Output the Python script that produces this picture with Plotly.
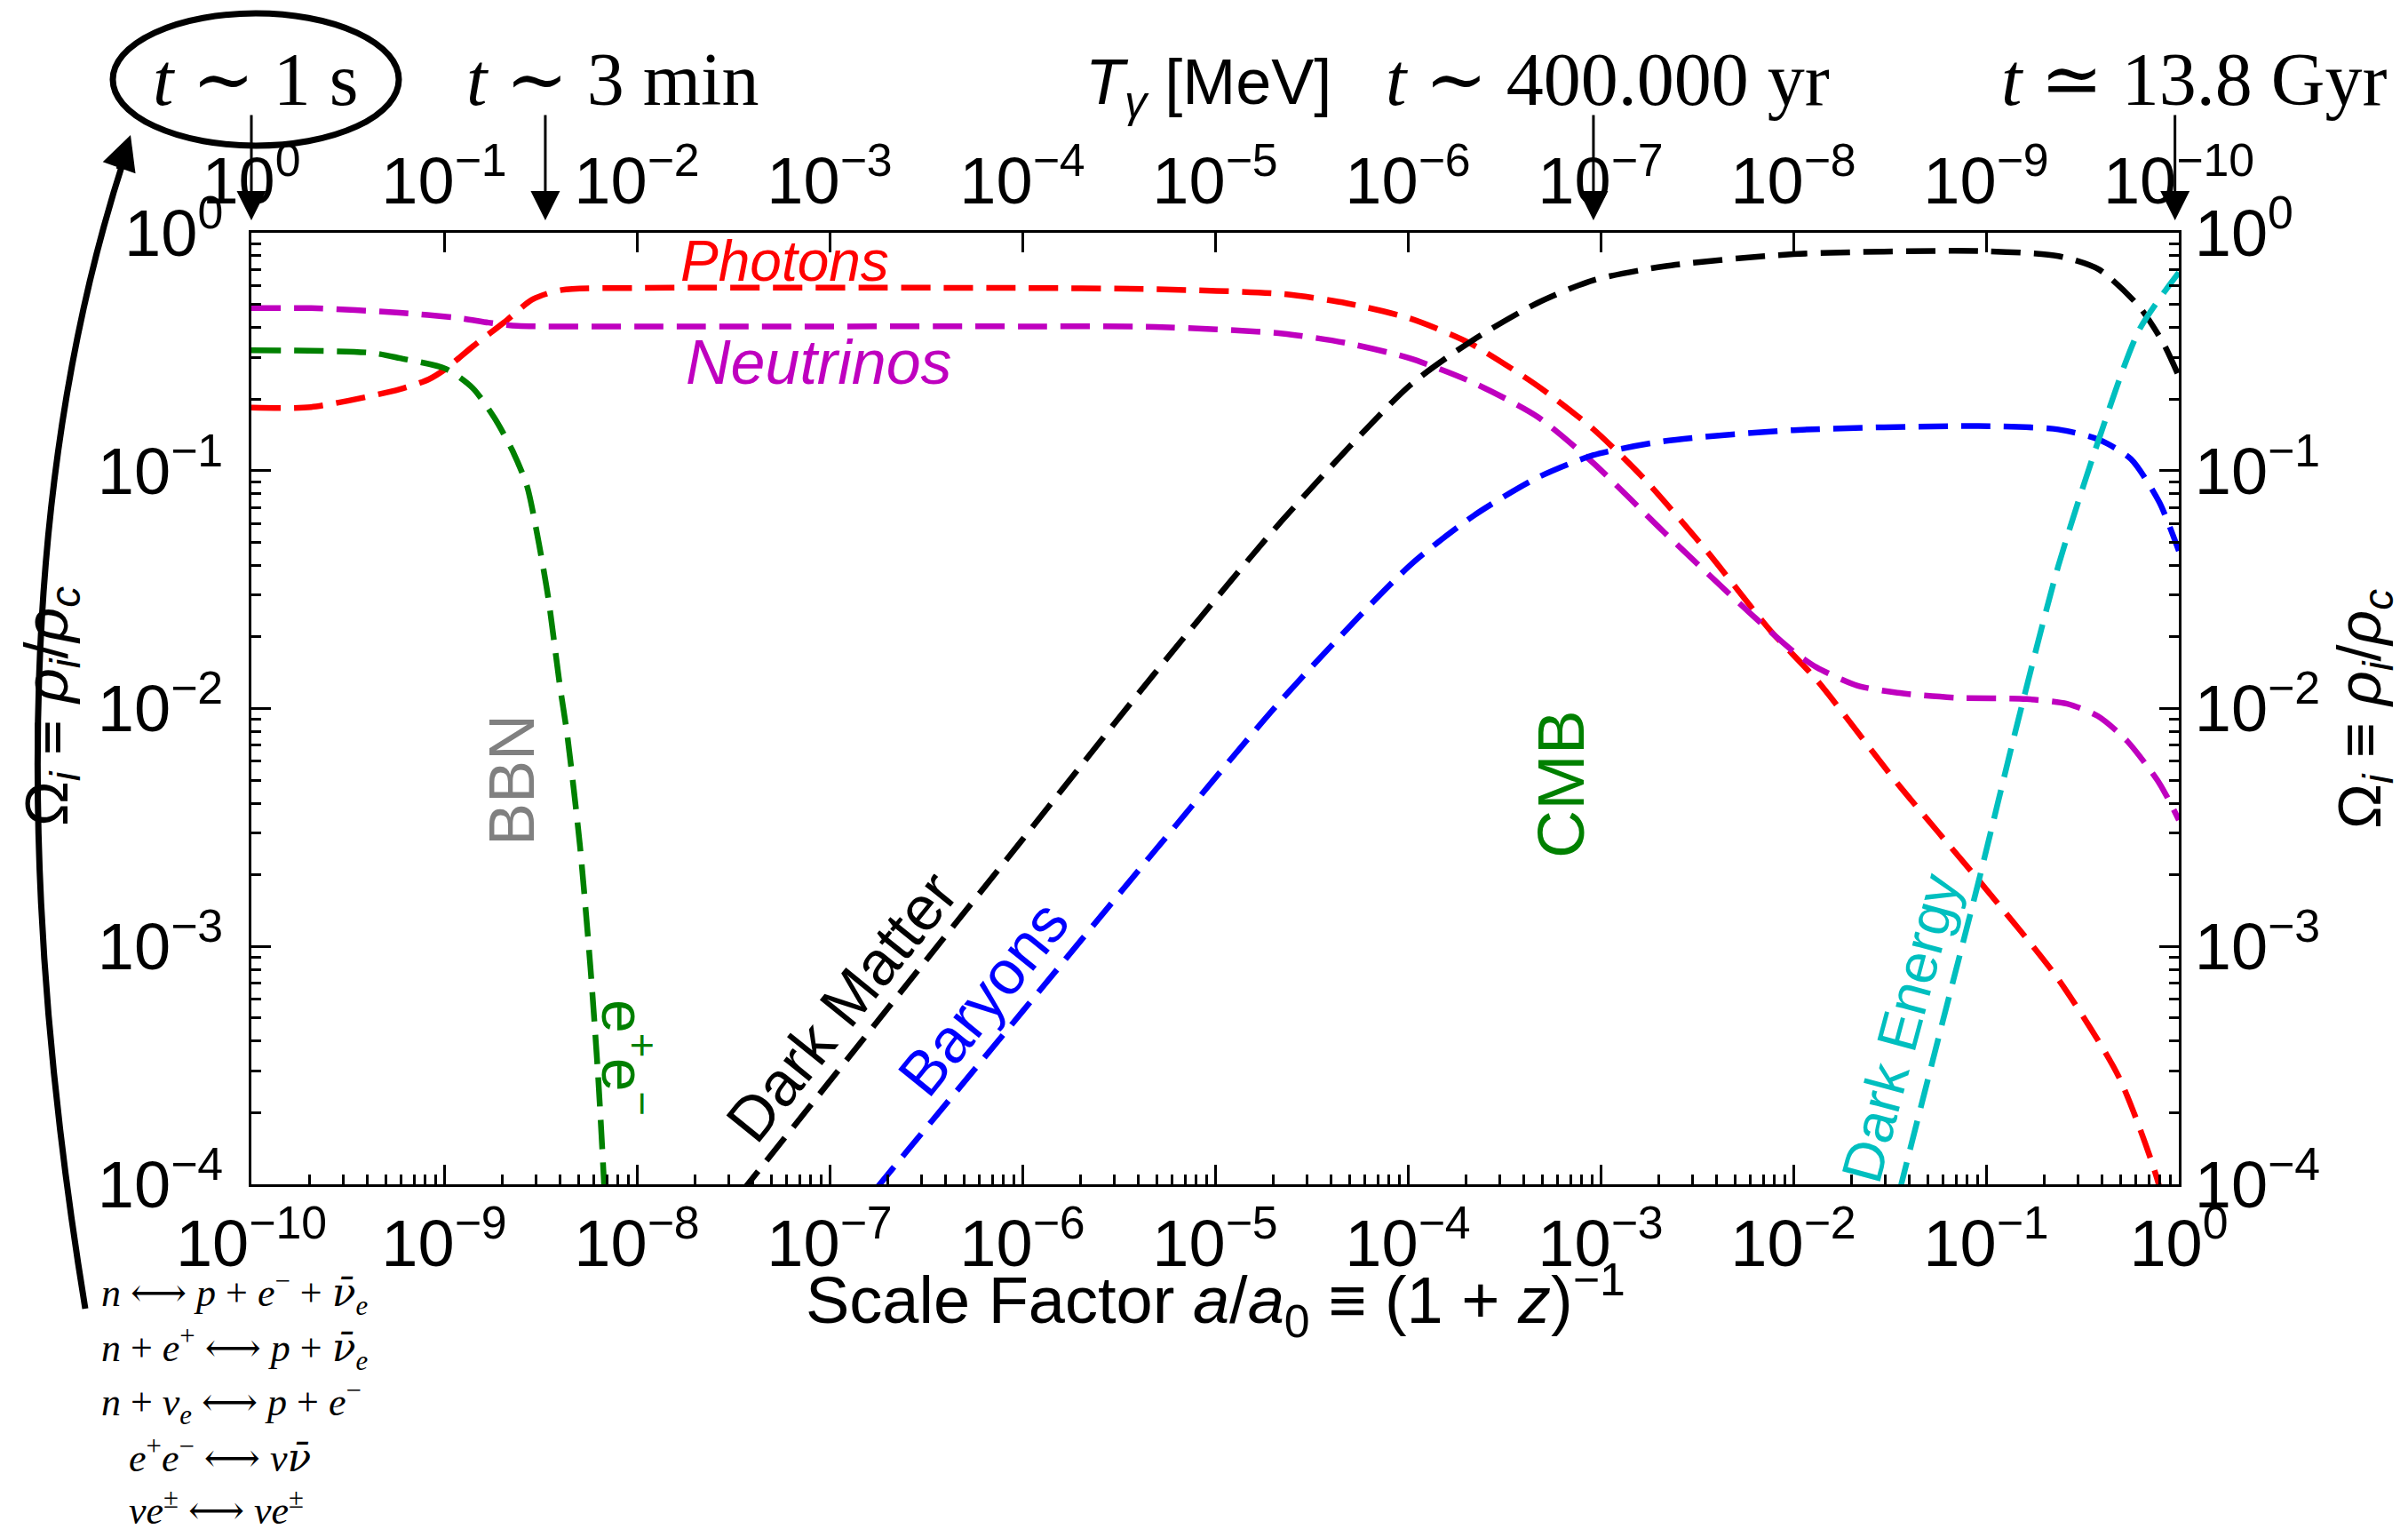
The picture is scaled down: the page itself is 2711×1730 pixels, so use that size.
import math
import plotly.graph_objects as go

# ---------------- data ----------------
a_photons = [1e-10, 2.04e-10, 5.89e-10, 8.32e-10, 1.02e-9, 1.41e-9, 2.04e-9, 2.88e-9, 4.07e-9, 1e-8, 1e-6,
             4.9e-6, 2.24e-5, 4.79e-5, 1.02e-4, 2.09e-4, 4.68e-4, 9.12e-4, 1.66e-3, 3.55e-3, 7.59e-3, 1.32e-2,
             3.47e-2, 9.55e-2, 0.237, 0.489, 0.791, 0.83]
omega_photons = [0.184, 0.185, 0.220, 0.242, 0.268, 0.333, 0.419, 0.525, 0.575, 0.586, 0.586,
                 0.579, 0.553, 0.506, 0.437, 0.344, 0.228, 0.150, 0.0935, 0.046, 0.0213, 0.0132,
                 4.84e-3, 1.82e-3, 7.28e-4, 2.82e-4, 9.8e-5, 7e-5]

a_neutrinos = [1e-10, 2.04e-10, 5.89e-10, 1.2e-9, 1.7e-9, 2.4e-9, 1e-8, 1e-6, 4.9e-6, 2.24e-5, 4.79e-5,
               1.02e-4, 2.19e-4, 4.68e-4, 9.12e-4, 2.14e-3, 5.89e-3, 1e-2, 1.32e-2, 2.14e-2, 3.47e-2,
               7.08e-2, 0.162, 0.263, 0.380, 0.537, 0.794, 1.0]
omega_neutrinos = [0.482, 0.482, 0.461, 0.438, 0.419, 0.406, 0.404, 0.404, 0.402, 0.377, 0.344,
                   0.297, 0.234, 0.169, 0.108, 0.055, 0.0254, 0.0174, 0.0149, 0.0125, 0.01164,
                   0.0111, 0.01096, 0.01047, 9.29e-3, 7.33e-3, 4.84e-3, 3.40e-3]

a_pairs = [1e-10, 4.17e-10, 5.89e-10, 1.02e-9, 1.41e-9, 1.82e-9, 2.26e-9, 2.69e-9, 3.11e-9, 3.47e-9,
           3.98e-9, 4.35e-9, 5.06e-9, 5.74e-9, 6.30e-9, 6.76e-9, 6.92e-9]
omega_pairs = [0.321, 0.313, 0.297, 0.268, 0.222, 0.167, 0.1216, 0.0863, 0.0489, 0.0292,
               0.0126, 7.78e-3, 2.68e-3, 8.2e-4, 2.82e-4, 1e-4, 6.3e-5]

a_dark_matter = [2.5e-8, 3.76e-8, 3.16e-7, 1e-6, 4.86e-6, 2.23e-5, 1.02e-4, 2.19e-4, 4.68e-4, 9.12e-4,
                 2.14e-3, 1e-2, 9.12e-2, 0.237, 0.384, 0.621, 0.830, 1.0]
omega_dark_matter = [6.6e-5, 1e-4, 8.73e-4, 2.81e-3, 0.01406, 0.0618, 0.2275, 0.355, 0.506, 0.631,
                     0.723, 0.813, 0.838, 0.798, 0.702, 0.491, 0.344, 0.249]

a_baryons = [1.26e-7, 1.82e-7, 1e-6, 4.86e-6, 2.23e-5, 1.02e-4, 2.19e-4, 4.68e-4, 9.12e-4, 2.14e-3,
             1e-2, 9.12e-2, 0.237, 0.384, 0.564, 0.791, 1.0]
omega_baryons = [6.9e-5, 1e-4, 5.32e-4, 2.52e-3, 0.01096, 0.0398, 0.0646, 0.0933, 0.116, 0.133,
                 0.148, 0.154, 0.149, 0.135, 0.112, 0.0738, 0.046]

a_dark_energy = [3.16e-2, 3.63e-2, 5.6e-2, 9.06e-2, 0.1466, 0.237, 0.384, 0.621, 1.0]
omega_dark_energy = [6.3e-5, 1e-4, 3.98e-4, 1.82e-3, 8.91e-3, 0.0398, 0.135, 0.389, 0.681]

x_ticks = [1e-10, 1e-9, 1e-8, 1e-7, 1e-6, 1e-5, 1e-4, 1e-3, 1e-2, 1e-1, 1]
x_tick_labels = ["10<sup>−10</sup>", "10<sup>−9</sup>", "10<sup>−8</sup>", "10<sup>−7</sup>", "10<sup>−6</sup>",
                 "10<sup>−5</sup>", "10<sup>−4</sup>", "10<sup>−3</sup>", "10<sup>−2</sup>", "10<sup>−1</sup>",
                 "10<sup>0</sup>"]
t_ticks = [1, 1e-1, 1e-2, 1e-3, 1e-4, 1e-5, 1e-6, 1e-7, 1e-8, 1e-9, 1e-10]
t_tick_labels = ["10<sup>0</sup>", "10<sup>−1</sup>", "10<sup>−2</sup>", "10<sup>−3</sup>", "10<sup>−4</sup>",
                 "10<sup>−5</sup>", "10<sup>−6</sup>", "10<sup>−7</sup>", "10<sup>−8</sup>", "10<sup>−9</sup>",
                 "10<sup>−10</sup>"]
y_ticks = [1e-4, 1e-3, 1e-2, 1e-1, 1]
y_tick_labels = ["10<sup>−4</sup>", "10<sup>−3</sup>", "10<sup>−2</sup>", "10<sup>−1</sup>", "10<sup>0</sup>"]

bbn_band = [2.99e-9, 3.85e-9]
cmb_band = [8.53e-4, 9.91e-4]
marker_times = [1e-10, 3.35e-9, 9.18e-4, 0.955]
marker_labels = ["<i>t</i> ∼ 1 s", "<i>t</i> ∼ 3 min", "<i>t</i> ∼ 400.000 yr", "<i>t</i> ≃ 13.8 Gyr"]

# ---------------- layout geometry ----------------
W, H = 2711, 1730
ML, MR, MT, MB = 283, 258, 262, 397
PW, PH = W - ML - MR, H - MT - MB


def px(x):
    return (x - ML) / PW


def py(y):
    return (H - MB - y) / PH


SANS = "Liberation Sans, Arial, sans-serif"
SERIF = "Liberation Serif, DejaVu Serif, serif"
DASH = "33px,15px"
LW = 6.5

fig = go.Figure()
series = [
    (a_photons, omega_photons, "#ff0000"),
    (a_neutrinos, omega_neutrinos, "#bf00bf"),
    (a_pairs, omega_pairs, "#008000"),
    (a_dark_matter, omega_dark_matter, "#000000"),
    (a_baryons, omega_baryons, "#0000ff"),
    (a_dark_energy, omega_dark_energy, "#00bfbf"),
]
for xs, ys, col in series:
    fig.add_trace(go.Scatter(x=xs, y=ys, mode="lines",
                             line=dict(color=col, width=LW, dash=DASH, shape="spline", smoothing=0.7),
                             hoverinfo="skip", showlegend=False))

# invisible traces to activate the secondary axes
fig.add_trace(go.Scatter(x=[1, 1e-10], y=[1e-4, 1e-4], xaxis="x2", yaxis="y", mode="markers",
                         marker=dict(opacity=0), hoverinfo="skip", showlegend=False))
fig.add_trace(go.Scatter(x=[1e-10, 1], y=[1e-4, 1], xaxis="x", yaxis="y2", mode="markers",
                         marker=dict(opacity=0), hoverinfo="skip", showlegend=False))

minor_x = [m * 10.0 ** k for k in range(-10, 0) for m in range(2, 10)]
minor_y = [m * 10.0 ** k for k in range(-4, 0) for m in range(2, 10)]
tickfont = dict(family=SANS, size=74, color="black")

axis_common = dict(type="log", showgrid=False, zeroline=False, showline=True, linecolor="black",
                   linewidth=3, ticks="inside", ticklen=22, tickwidth=3, tickcolor="black",
                   tickfont=tickfont)

fig.update_layout(
    width=W, height=H, autosize=False,
    margin=dict(l=ML, r=MR, t=MT, b=MB, pad=0),
    paper_bgcolor="white", plot_bgcolor="white",
    showlegend=False, hovermode=False,
    xaxis=dict(axis_common, range=[-10, 0], tickvals=x_ticks, ticktext=x_tick_labels,
               minor=dict(ticks="inside", ticklen=11, tickwidth=2.5, tickcolor="black", tickvals=minor_x),
               ticklabelstandoff=0),
    xaxis2=dict(axis_common, range=[0, -10], overlaying="x", side="top", anchor="y",
                tickvals=t_ticks, ticktext=t_tick_labels, ticklabelstandoff=0),
    yaxis=dict(axis_common, range=[-4, 0], tickvals=y_ticks, ticktext=y_tick_labels,
               minor=dict(ticks="inside", ticklen=11, tickwidth=2.5, tickcolor="black", tickvals=minor_y),
               ticklabelstandoff=14),
    yaxis2=dict(axis_common, range=[-4, 0], overlaying="y", side="right", anchor="x",
                tickvals=y_ticks, ticktext=y_tick_labels,
                minor=dict(ticks="inside", ticklen=11, tickwidth=2.5, tickcolor="black", tickvals=minor_y),
                ticklabelstandoff=0),
)

shapes = [
    dict(type="rect", xref="x", yref="paper", x0=math.log10(bbn_band[0]), x1=math.log10(bbn_band[1]),
         y0=0, y1=1, fillcolor="#cccccc", line=dict(color="#b4b4b4", width=3), layer="below"),
    dict(type="rect", xref="x", yref="paper", x0=math.log10(cmb_band[0]), x1=math.log10(cmb_band[1]),
         y0=0, y1=1, fillcolor="#6cb86c", line=dict(color="#a8d8a8", width=2), layer="below"),
    dict(type="circle", xref="paper", yref="paper", x0=px(127), x1=px(449), y0=py(164), y1=py(15),
         line=dict(color="black", width=7)),
    dict(type="path", xref="paper", yref="paper",
         path=f"M {px(96)},{py(1473)} Q {px(-30)},{py(700)} {px(140)},{py(178)}",
         line=dict(color="black", width=7)),
]
fig.update_layout(shapes=shapes)

ann = []


def label(x, y, text, size, color="black", family=SANS, angle=0, xref="paper", xanchor="center"):
    ann.append(dict(x=x, y=y, xref=xref, yref="paper", text=text, showarrow=False, textangle=angle,
                    xanchor=xanchor, yanchor="middle", font=dict(family=family, size=size, color=color)))


# curve labels
label(px(883), py(294), "<i>Photons</i>", 64, "#ff0000")
label(px(922), py(408), "<i>Neutrinos</i>", 70, "#bf00bf")
label(px(576), py(878), "BBN", 72, "#808080", angle=-90)
label(px(1757), py(883), "CMB", 75, "#008000", angle=-90)
label(px(707), py(1190), "e<sup>+</sup>e<sup>−</sup>", 68, "#008000", angle=90)
label(px(948), py(1133), "Dark Matter", 70, "black", angle=-51)
label(px(1107), py(1124), "Baryons", 70, "#0000ff", angle=-51)
label(px(2140), py(1157), "Dark Energy", 64, "#00bfbf", angle=-75)

# axis titles
label(0.5, py(1463), "Scale Factor <i>a</i>/<i>a</i><sub>0</sub> ≡ (1 + <i>z</i>)<sup>−1</sup>", 74)
omega_title = "Ω<sub><i>i</i></sub> ≡ <i>ρ</i><sub><i>i</i></sub>/<i>ρ</i><sub><i>c</i></sub>"
label(px(57), py(795), omega_title, 68, angle=-90)
label(px(2661), py(798), omega_title, 68, angle=-90)
label(px(1360), py(97), "<i>T</i><sub><i>γ</i></sub> [MeV]", 72)

# time labels and arrows
time_label_x = [287, 689, 1810, 2470]
for tx, lab, tval in zip(time_label_x, marker_labels, marker_times):
    label(px(tx), py(90), lab, 84, family=SERIF)
    ann.append(dict(x=math.log10(tval), y=py(248), xref="x", yref="paper", text="", showarrow=True,
                    ax=0, ay=-120, arrowhead=2, arrowsize=2.2, arrowwidth=3, arrowcolor="black"))

# curved arrow head
ann.append(dict(x=px(147), y=py(152), xref="paper", yref="paper", text="", showarrow=True,
                ax=-14, ay=40, arrowhead=2, arrowsize=1.3, arrowwidth=6, arrowcolor="black"))

# reactions
NUBAR = "<span style='font-family:DejaVu Serif'><i>ν̄</i></span>"
reactions = [
    "<i>n</i> ⟷ <i>p</i> + <i>e</i><sup>−</sup> + " + NUBAR + "<sub><i>e</i></sub>",
    "<i>n</i> + <i>e</i><sup>+</sup> ⟷ <i>p</i> + " + NUBAR + "<sub><i>e</i></sub>",
    "<i>n</i> + <i>ν</i><sub><i>e</i></sub> ⟷ <i>p</i> + <i>e</i><sup>−</sup>",
    "<i>e</i><sup>+</sup><i>e</i><sup>−</sup> ⟷ <i>ν</i>" + NUBAR,
    "<i>νe</i><sup>±</sup> ⟷ <i>νe</i><sup>±</sup>",
]
reaction_y = [1456, 1518, 1579, 1639, 1697]
reaction_x = [112, 112, 112, 143, 143]
for rx, ry, txt in zip(reaction_x, reaction_y, reactions):
    label(px(rx), py(ry), txt, 44, family=SERIF, xanchor="left")

fig.update_layout(annotations=ann)

fig.write_html("out.html", config={"displayModeBar": False},
               post_script="document.body.style.margin='0';document.body.style.overflow='hidden';")
